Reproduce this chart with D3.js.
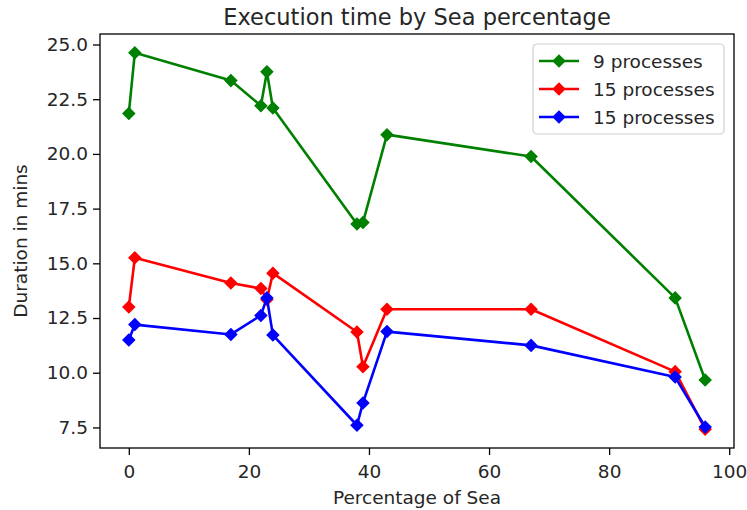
<!DOCTYPE html>
<html>
<head>
<meta charset="utf-8">
<script src="https://cdn.jsdelivr.net/npm/d3@7"></script>
<style>
  html, body { margin: 0; padding: 0; background: #fff; }
  svg { display: block; font-family: "DejaVu Sans", sans-serif; }
</style>
</head>
<body>
<svg id="chart" width="747" height="510"></svg>
<script>
// Sea percentage of each run (x axis)
const seaPercent = [0, 1, 17, 22, 23, 24, 38, 39, 43, 67, 91, 96];

// Duration in minutes for each configuration
const nineProcs    = [21.85, 24.62, 23.35, 22.2, 23.75, 22.1, 16.8, 16.87, 20.88, 19.88, 13.42, 9.67];
const fifteenProcsA = [13.0, 15.25, 14.1, 13.85, 13.35, 14.55, 11.86, 10.27, 12.9, 12.9, 10.05, 7.42];
const fifteenProcsB = [11.5, 12.2, 11.75, 12.62, 13.42, 11.72, 7.6, 8.62, 11.88, 11.25, 9.8, 7.52];

const seriesNames = ["9 processes", "15 processes", "15 processes"];
const seriesColors = ["#008000", "#ff0000", "#0000ff"];
const xTicks = [0, 20, 40, 60, 80, 100];
const yTicks = [7.5, 10.0, 12.5, 15.0, 17.5, 20.0, 22.5, 25.0];

const chartTitle = "Execution time by Sea percentage";
const xTitle = "Percentage of Sea";
const yTitle = "Duration in mins";

const series = [nineProcs, fifteenProcsA, fifteenProcsB].map((vals, i) => ({
  name: seriesNames[i],
  color: seriesColors[i],
  points: vals.map((v, j) => ({ x: seaPercent[j], y: v }))
}));

const svg = d3.select("#chart");
const plot = { left: 100, right: 734, top: 34, bottom: 448 };

// Data limits padded by 5% on each side
const allY = series.flatMap(s => s.points.map(p => p.y));
const xMin = d3.min(seaPercent), xMax = d3.max(seaPercent);
const yMin = d3.min(allY), yMax = d3.max(allY);
const xPad = (xMax - xMin) * 0.05, yPad = (yMax - yMin) * 0.05;

const x = d3.scaleLinear().domain([xMin - xPad, xMax + xPad]).range([plot.left, plot.right]);
const y = d3.scaleLinear().domain([yMin - yPad, yMax + yPad]).range([plot.bottom, plot.top]);

const fontSize = 18.5;
const textColor = "#262626";

// Axes
const xAxis = svg.append("g")
  .attr("transform", `translate(0,${plot.bottom})`)
  .call(d3.axisBottom(x).tickValues(xTicks).tickFormat(d3.format("d")).tickSize(7).tickPadding(5).tickSizeOuter(0));
const yAxis = svg.append("g")
  .attr("transform", `translate(${plot.left},0)`)
  .call(d3.axisLeft(y).tickValues(yTicks).tickFormat(d3.format(".1f")).tickSize(7).tickPadding(5).tickSizeOuter(0));

[xAxis, yAxis].forEach(g => {
  g.select(".domain").remove();
  g.selectAll(".tick line").attr("stroke", "#000").attr("stroke-width", 1.3);
  g.selectAll(".tick text").attr("fill", textColor).attr("font-size", fontSize)
    .attr("font-family", "DejaVu Sans, sans-serif");
});
xAxis.selectAll(".tick text").attr("dy", null).attr("y", 30);

// Frame
svg.append("rect")
  .attr("x", plot.left).attr("y", plot.top)
  .attr("width", plot.right - plot.left).attr("height", plot.bottom - plot.top)
  .attr("fill", "none").attr("stroke", "#000").attr("stroke-width", 1.3);

// Lines and diamond markers
const line = d3.line().x(d => x(d.x)).y(d => y(d.y));
const diamond = d3.symbol().type(d3.symbolSquare).size(62);

series.forEach(s => {
  const g = svg.append("g");
  g.append("path")
    .datum(s.points)
    .attr("d", line)
    .attr("fill", "none")
    .attr("stroke", s.color)
    .attr("stroke-width", 2.6)
    .attr("stroke-linejoin", "round");
  g.selectAll("path.marker")
    .data(s.points)
    .join("path")
    .attr("class", "marker")
    .attr("d", diamond)
    .attr("transform", d => `translate(${x(d.x)},${y(d.y)}) rotate(45)`)
    .attr("fill", s.color)
    .attr("stroke", s.color)
    .attr("stroke-width", 1.7);
});

// Title and axis labels
svg.append("text")
  .attr("x", (plot.left + plot.right) / 2).attr("y", 25)
  .attr("text-anchor", "middle").attr("font-size", 22.5).attr("fill", textColor)
  .text(chartTitle);
svg.append("text")
  .attr("x", (plot.left + plot.right) / 2).attr("y", 504)
  .attr("text-anchor", "middle").attr("font-size", fontSize).attr("fill", textColor)
  .text(xTitle);
svg.append("text")
  .attr("transform", `translate(27,${(plot.top + plot.bottom) / 2}) rotate(-90)`)
  .attr("text-anchor", "middle").attr("font-size", fontSize).attr("fill", textColor)
  .text(yTitle);

// Legend
const legend = svg.append("g").attr("transform", "translate(533,44)");
legend.append("rect")
  .attr("width", 191).attr("height", 90).attr("rx", 4)
  .attr("fill", "#fff").attr("fill-opacity", 0.8)
  .attr("stroke", "#d0d0d0").attr("stroke-width", 1.2);
series.forEach((s, i) => {
  const row = legend.append("g").attr("transform", `translate(0,${17 + i * 28})`);
  row.append("line")
    .attr("x1", 6).attr("x2", 46).attr("y1", 0).attr("y2", 0)
    .attr("stroke", s.color).attr("stroke-width", 2.6);
  row.append("path")
    .attr("d", diamond)
    .attr("transform", "translate(26,0) rotate(45)")
    .attr("fill", s.color).attr("stroke", s.color).attr("stroke-width", 1.7);
  row.append("text")
    .attr("x", 60).attr("y", 7)
    .attr("font-size", fontSize).attr("fill", textColor)
    .text(s.name);
});
</script>
</body>
</html>
